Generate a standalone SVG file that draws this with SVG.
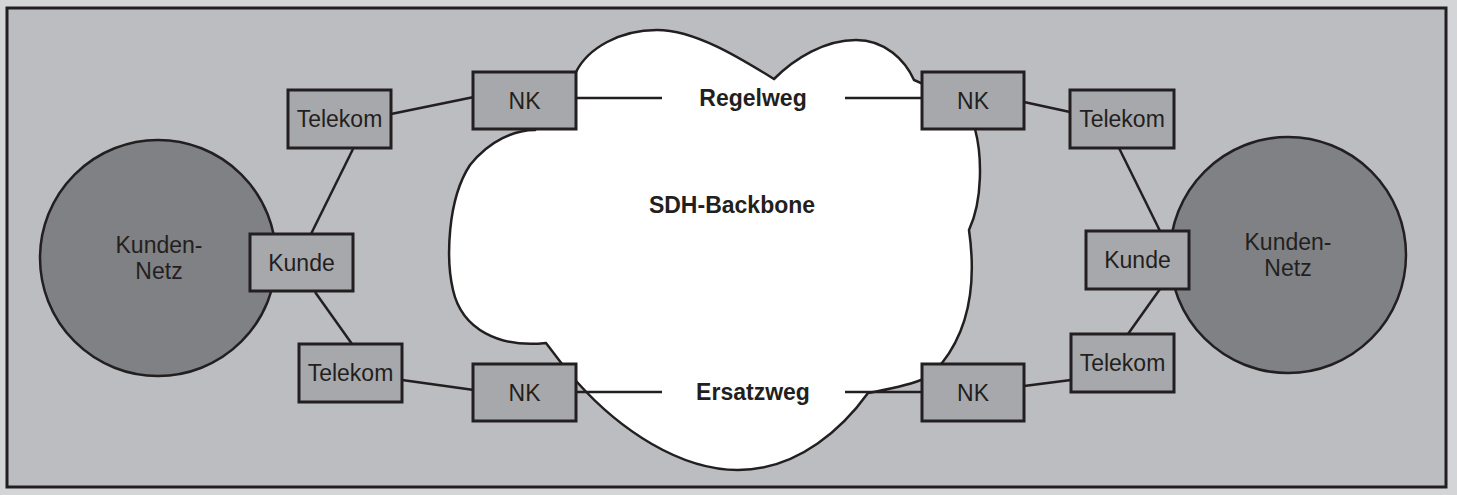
<svg xmlns="http://www.w3.org/2000/svg" width="1457" height="495" viewBox="0 0 1457 495">
  <style>
    .box { fill: #a7a8ab; stroke: #231f20; stroke-width: 3; }
    .net { fill: #808184; stroke: #231f20; stroke-width: 2.5; }
    .cloud { fill: #ffffff; stroke: #231f20; stroke-width: 2.5; stroke-linejoin: miter; }
    .wire { fill: none; stroke: #231f20; stroke-width: 2.5; }
    .lbl { font-family: "Liberation Sans", Arial, sans-serif; font-size: 23px; fill: #231f20; text-anchor: middle; }
    .bold { font-weight: bold; }
  </style>

  <!-- background and frame -->
  <rect x="0" y="0" width="1457" height="495" fill="#d4d5d7"/>
  <rect x="7" y="8" width="1439" height="479" fill="#bcbdc1" stroke="#231f20" stroke-width="3"/>

  <!-- SDH backbone cloud -->
  <g id="backbone">
    <path class="cloud" d="M 576,72 C 588,48 620,30 657,30 C 695,30 740,58 774,79 C 795,58 825,40 856,40 C 885,40 905,60 914,80 L 921,83 L 975,129 C 982,155 983,200 969,230 C 974,265 976,320 942,363 L 921,380 C 905,386 885,390 868,393 C 845,425 800,470 738,470 C 680,470 620,430 577,382 L 562,364 L 546,343 C 500,348 462,330 453,290 C 446,260 447,200 470,165 C 490,140 515,130 535,130 Z"/>
    <text class="lbl bold" x="732" y="213">SDH-Backbone</text>
  </g>

  <!-- customer networks -->
  <g id="kundennetz-links">
    <circle class="net" cx="158" cy="258" r="118"/>
    <text class="lbl" x="159" y="253">Kunden-</text>
    <text class="lbl" x="159" y="279">Netz</text>
  </g>
  <g id="kundennetz-rechts">
    <circle class="net" cx="1288" cy="255" r="118"/>
    <text class="lbl" x="1288" y="250">Kunden-</text>
    <text class="lbl" x="1288" y="276">Netz</text>
  </g>

  <!-- connectors -->
  <g id="connectors" class="wire">
    <line x1="391" y1="114" x2="474" y2="97"/>
    <line x1="353" y1="149" x2="311" y2="234"/>
    <line x1="315" y1="292" x2="352" y2="344"/>
    <line x1="402" y1="380" x2="474" y2="390"/>
    <line x1="576" y1="98" x2="662" y2="98"/>
    <line x1="845" y1="98" x2="922" y2="98"/>
    <line x1="577" y1="392" x2="662" y2="392"/>
    <line x1="845" y1="392" x2="922" y2="392"/>
    <line x1="1024" y1="102" x2="1070" y2="112"/>
    <line x1="1119" y1="148" x2="1160" y2="231"/>
    <line x1="1160" y1="289" x2="1128" y2="334"/>
    <line x1="1071" y1="380" x2="1024" y2="386"/>
  </g>

  <!-- path labels -->
  <g id="pfade">
    <text class="lbl bold" x="753" y="106">Regelweg</text>
    <text class="lbl bold" x="753" y="400">Ersatzweg</text>
  </g>

  <!-- left side nodes -->
  <g id="telekom-lo">
    <rect class="box" x="288" y="90" width="103" height="58"/>
    <text class="lbl" x="339.5" y="127">Telekom</text>
  </g>
  <g id="kunde-l">
    <rect class="box" x="250" y="234" width="103" height="57"/>
    <text class="lbl" x="301.5" y="271">Kunde</text>
  </g>
  <g id="telekom-lu">
    <rect class="box" x="299" y="344" width="103" height="58"/>
    <text class="lbl" x="350.5" y="381">Telekom</text>
  </g>
  <g id="nk-lo">
    <rect class="box" x="473" y="72" width="103" height="57"/>
    <text class="lbl" x="524.5" y="109">NK</text>
  </g>
  <g id="nk-lu">
    <rect class="box" x="473" y="364" width="103" height="57"/>
    <text class="lbl" x="524.5" y="401">NK</text>
  </g>

  <!-- right side nodes -->
  <g id="nk-ro">
    <rect class="box" x="922" y="72" width="102" height="57"/>
    <text class="lbl" x="973" y="109">NK</text>
  </g>
  <g id="nk-ru">
    <rect class="box" x="922" y="364" width="102" height="57"/>
    <text class="lbl" x="973" y="401">NK</text>
  </g>
  <g id="telekom-ro">
    <rect class="box" x="1070" y="90" width="104" height="58"/>
    <text class="lbl" x="1122" y="127">Telekom</text>
  </g>
  <g id="kunde-r">
    <rect class="box" x="1086" y="231" width="103" height="58"/>
    <text class="lbl" x="1137.5" y="268">Kunde</text>
  </g>
  <g id="telekom-ru">
    <rect class="box" x="1071" y="334" width="103" height="58"/>
    <text class="lbl" x="1122.5" y="371">Telekom</text>
  </g>
</svg>
